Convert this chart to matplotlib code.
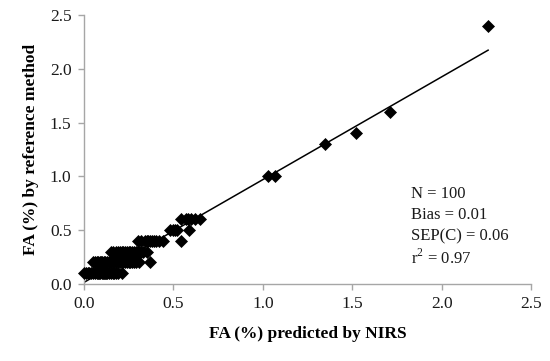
import matplotlib
matplotlib.use('Agg')
import matplotlib.pyplot as plt
import numpy as np

plt.rcParams['font.family'] = 'Liberation Serif'
plt.rcParams['mathtext.fontset'] = 'custom'
plt.rcParams['mathtext.rm'] = 'Liberation Serif'

# FA (%) predicted by NIRS (x) vs reference method (y), N = 100
pred_01 = [0.0, 0.01, 0.02, 0.03, 0.04, 0.05, 0.06, 0.07, 0.08, 0.085, 0.09, 0.10,
           0.105, 0.11, 0.12, 0.125, 0.13, 0.14, 0.15, 0.16, 0.17, 0.18, 0.19, 0.21]
pred_02 = [0.05, 0.06, 0.07, 0.08, 0.09, 0.095, 0.10, 0.11, 0.12, 0.13, 0.14, 0.15,
           0.16, 0.17, 0.18, 0.19, 0.20, 0.21, 0.22, 0.23, 0.24, 0.25, 0.26, 0.27,
           0.28, 0.29, 0.31, 0.37]
pred_03 = [0.15, 0.16, 0.18, 0.19, 0.20, 0.21, 0.22, 0.23, 0.24, 0.25, 0.26, 0.27,
           0.28, 0.29, 0.30, 0.31, 0.32, 0.33, 0.35]
pred_04 = [0.30, 0.32, 0.34, 0.35, 0.36, 0.37, 0.38, 0.39, 0.40, 0.42, 0.44, 0.54]
pred_05 = [0.48, 0.50, 0.51, 0.52, 0.59]
pred_06 = [0.54, 0.57, 0.58, 0.60, 0.62, 0.65]
pred_hi = [1.03, 1.07, 1.35, 1.52, 1.71, 2.26]
ref_hi = [1.0, 1.0, 1.3, 1.4, 1.6, 2.4]

groups = [(pred_01, 0.1), (pred_02, 0.2), (pred_03, 0.3),
          (pred_04, 0.4), (pred_05, 0.5), (pred_06, 0.6)]
x = np.concatenate([g for g, _ in groups] + [pred_hi])
y = np.concatenate([[v] * len(g) for g, v in groups] + [ref_hi])

# regression line (as drawn in the figure)
slope = 0.955
intercept = 0.015

stats_text = ['N = 100', 'Bias = 0.01', 'SEP(C) = 0.06', r'r$^2$ = 0.97']

fig = plt.figure(figsize=(5.5, 3.61), dpi=100)
ax = fig.add_axes([0.1527, 0.2133, 0.8128, 0.7451])

ax.plot(x, y, linestyle='none', marker='D', markersize=6.0,
        color='black', markeredgewidth=0.5, zorder=3, clip_on=False)
xl = np.array([x.min(), x.max()])
ax.plot(xl, slope * xl + intercept, color='black', linewidth=1.1, zorder=2)

ax.set_xlim(0, 2.5)
ax.set_ylim(0, 2.5)
ax.set_xticks(np.arange(0, 2.51, 0.5))
ax.set_yticks(np.arange(0, 2.51, 0.5))
ax.xaxis.set_major_formatter(matplotlib.ticker.FormatStrFormatter('%.1f'))
ax.yaxis.set_major_formatter(matplotlib.ticker.FormatStrFormatter('%.1f'))

for s in ['top', 'right']:
    ax.spines[s].set_visible(False)
for s in ['left', 'bottom']:
    ax.spines[s].set_color('#a6a6a6')
    ax.spines[s].set_linewidth(1.0)
ax.tick_params(axis='both', direction='out', length=4, width=1.0,
               color='#a6a6a6', labelsize=12.5, labelcolor='#1a1a1a', pad=5)

ax.set_xlabel('FA (%) predicted by NIRS', fontsize=12.5, fontweight='bold',
              labelpad=10)
ax.set_ylabel('FA (%) by reference method', fontsize=12.5, fontweight='bold',
              labelpad=8)

for i, t in enumerate(stats_text):
    ax.text(0.732, 0.335 - i * 0.079, t, transform=ax.transAxes,
            fontsize=12, ha='left', va='center', color='#1a1a1a')

fig.savefig('out.png', dpi=100, facecolor='white')
